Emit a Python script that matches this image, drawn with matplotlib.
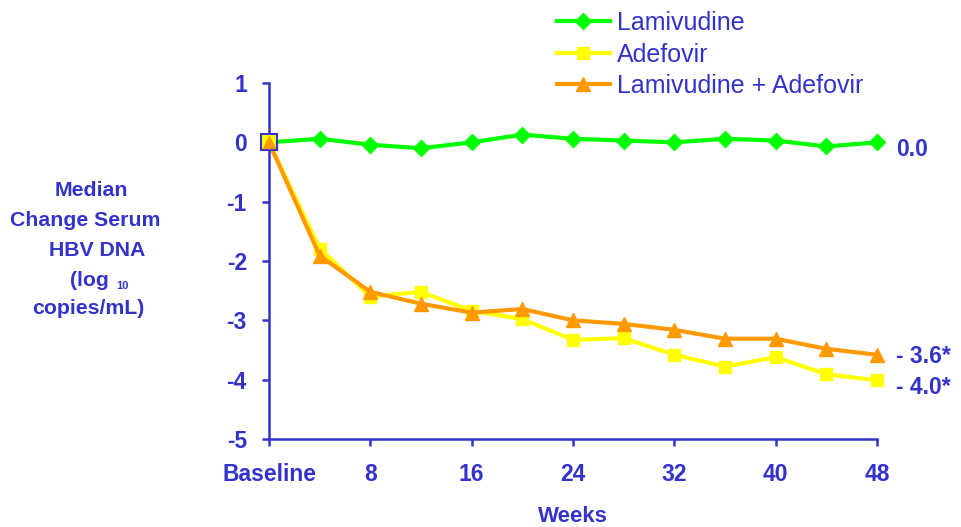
import matplotlib
matplotlib.use("Agg")
import matplotlib.pyplot as plt
from matplotlib.lines import Line2D

plt.rcParams['font.family'] = ['Liberation Sans', 'DejaVu Sans']
plt.rcParams['axes.unicode_minus'] = False

# data
weeks = [0, 4, 8, 12, 16, 20, 24, 28, 32, 36, 40, 44, 48]
lamivudine = [0.0, 0.06, -0.04, -0.10, 0.0, 0.13, 0.06, 0.03, 0.0, 0.06, 0.03, -0.07, 0.0]
adefovir = [0.0, -1.79, -2.60, -2.52, -2.84, -2.98, -3.33, -3.30, -3.58, -3.78, -3.62, -3.91, -4.01]
combo = [0.0, -1.91, -2.52, -2.72, -2.87, -2.81, -3.0, -3.06, -3.16, -3.31, -3.31, -3.48, -3.58]

series_names = ["Lamivudine", "Adefovir", "Lamivudine + Adefovir"]
end_labels = ["0.0", "- 4.0*", "- 3.6*"]

xticks = [0, 8, 16, 24, 32, 40, 48]
xticklabels = ["Baseline", "8", "16", "24", "32", "40", "48"]
yticks = [1, 0, -1, -2, -3, -4, -5]

blue = "#3333CC"
green = "#00FF00"
yellow = "#FFFF00"
orange = "#FF9900"

fig = plt.figure(figsize=(9.61, 5.27), dpi=100)
ax = fig.add_axes([269 / 961, 1 - 439 / 527, (877 - 269) / 961, (439 - 83) / 527])

ax.plot(weeks, lamivudine, color=green, lw=3, marker="D", ms=8, mec=green, clip_on=False, zorder=3)
ax.plot(weeks, adefovir, color=yellow, lw=3, marker="s", ms=9, mec=yellow, clip_on=False, zorder=4)
ax.plot(weeks, combo, color=orange, lw=3, marker="^", ms=10, mec=orange, clip_on=False, zorder=5)
# baseline marker: yellow square outlined in blue with the triangle on top
ax.plot(weeks[0], adefovir[0], ls="none", marker="s", ms=11, mfc=yellow, mec=blue, mew=1.5,
        clip_on=False, zorder=6)
ax.plot(weeks[0], combo[0], ls="none", marker="^", ms=9, mfc=orange, mec=orange,
        clip_on=False, zorder=7)

# values at week 48
for vals, lab, dy in zip([lamivudine, adefovir, combo], end_labels, [-5, -5, -1]):
    ax.annotate(lab, xy=(weeks[-1], vals[-1]), xytext=(14, dy), textcoords="offset points",
                ha="left", va="center", color=blue, fontsize=16.5, fontweight="bold",
                annotation_clip=False)

ax.set_xlim(0, 48)
ax.set_ylim(-5, 1)
ax.set_xticks(xticks)
ax.set_xticklabels(xticklabels)
ax.set_yticks(yticks)
for s in ["top", "right"]:
    ax.spines[s].set_visible(False)
for s in ["left", "bottom"]:
    ax.spines[s].set_color(blue)
    ax.spines[s].set_linewidth(1.8)
ax.tick_params(axis="both", colors=blue, width=1.8, length=5, labelsize=16.5)
ax.tick_params(axis="y", pad=11)
ax.tick_params(axis="x", pad=12)
for t in ax.get_xticklabels() + ax.get_yticklabels():
    t.set_fontweight("bold")

fig.text(573 / 961, 1 - 516 / 527, "Weeks", ha="center", va="center", color=blue,
         fontsize=16, fontweight="bold")

# y label, line by line
ylab = [("Median", 91, 190), ("Change Serum", 85, 220), ("HBV DNA", 97, 250),
        ("(log", 89, 280), ("copies/mL)", 88, 308)]
for txt, xc, yc in ylab:
    fig.text(xc / 961, 1 - yc / 527, txt, ha="center", va="center", color=blue,
             fontsize=15.3, fontweight="bold")
fig.text(122 / 961, 1 - 286 / 527, "10", ha="center", va="center", color=blue,
         fontsize=8, fontweight="bold")

handles = [
    Line2D([], [], color=green, lw=3, marker="D", ms=8, mec=green),
    Line2D([], [], color=yellow, lw=3, marker="s", ms=9, mec=yellow),
    Line2D([], [], color=orange, lw=3, marker="^", ms=10, mec=orange),
]
leg = fig.legend(handles, series_names, loc="upper left", bbox_to_anchor=(557 / 961, 1 - 11 / 527),
                 frameon=False, fontsize=18, handlelength=2.1, handletextpad=0.3,
                 labelspacing=0.3, borderpad=0, borderaxespad=0, numpoints=1)
for t in leg.get_texts():
    t.set_color(blue)

fig.savefig("out.png", dpi=100)
